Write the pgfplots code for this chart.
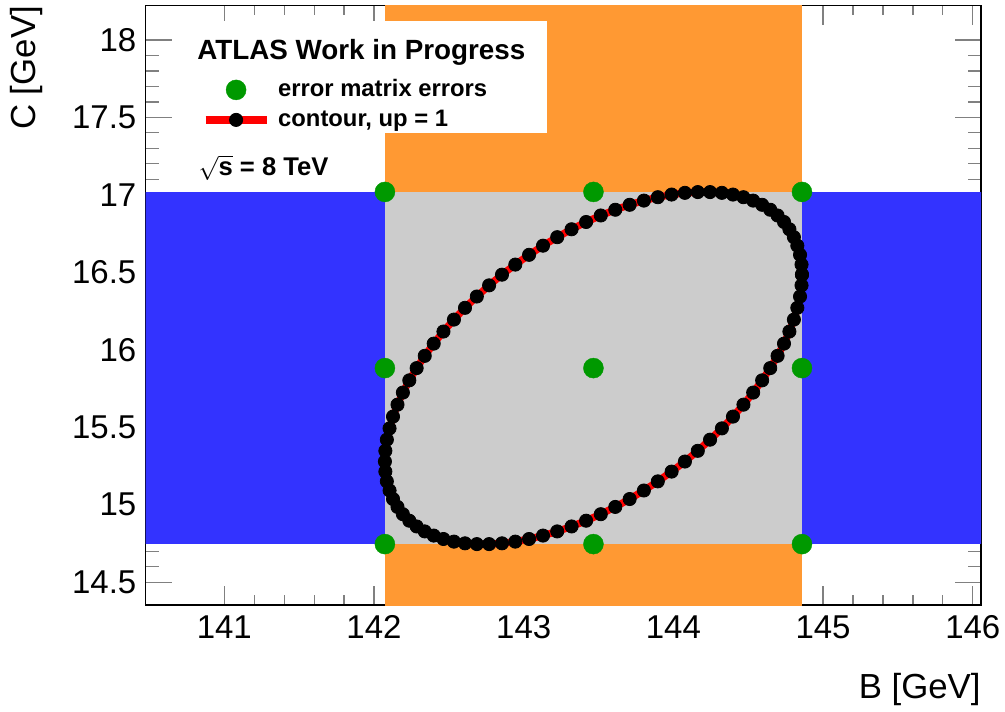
\documentclass[border=0pt]{standalone}
\usepackage{fontspec}
\setmainfont{Liberation Sans}
\usepackage{pgfplots}
\pgfplotsset{compat=1.18}
\definecolor{bandblue}{RGB}{51,51,255}
\definecolor{bandorange}{RGB}{255,153,51}
\definecolor{bandgrey}{RGB}{204,204,204}
\definecolor{ptgreen}{RGB}{0,153,0}
\begin{document}
\begin{tikzpicture}
\begin{axis}[
  name=ax,
  scale only axis,
  width=417.65pt, height=299.65pt,
  xmin=140.475, xmax=146.055,
  ymin=14.353, ymax=18.221,
  xtick={141,142,143,144,145,146},
  ytick={14.5,15,15.5,16,16.5,17,17.5,18},
  minor x tick num=4,
  minor y tick num=4,
  tick align=inside,
  tick pos=both,
  /pgf/number format/assume math mode=true,
  tick label style={font=\fontsize{16.5}{19}\selectfont},
  xticklabel style={inner sep=0pt, yshift=-5pt},
  yticklabel style={inner sep=0pt, xshift=-4.5pt},
  xtick style={line width=0.6pt, /pgfplots/major tick length=9.5pt, /pgfplots/minor tick length=4.8pt},
  ytick style={line width=0.6pt, /pgfplots/major tick length=13pt, /pgfplots/minor tick length=6.4pt},
  axis line style={line width=0.6pt},
  xlabel={B [GeV]},
  ylabel={C [GeV]},
  xlabel style={at={(axis description cs:1,-0.1418)}, anchor=east, inner sep=0pt, font=\fontsize{17.4}{20}\selectfont},
  ylabel style={at={(axis description cs:-0.1421,1)}, anchor=east, inner sep=0pt, font=\fontsize{17.4}{20}\selectfont},
  legend image code/.code={\draw[mark repeat=2,mark phase=2,#1] plot coordinates {(0pt,0pt) (15.25pt,0pt) (30.5pt,0pt)};},
  legend cell align=left,
  legend style={at={(axis description cs:0.0674,0.8845)}, anchor=north west, draw=none, fill=none,
    inner sep=0pt, outer sep=0pt, row sep=0pt,
    font=\bfseries\fontsize{11.9}{14}\selectfont,
    nodes={inner sep=0pt, text height=11pt, text depth=4pt},
    /tikz/every odd column/.append style={column sep=4pt}},
]
% bands (error matrix errors)
\addplot[draw=none, fill=bandblue, forget plot] coordinates {(140.0,14.746) (147.0,14.746) (147.0,17.019) (140.0,17.019)};
\addplot[draw=none, fill=bandorange, forget plot] coordinates {(142.073,14.0) (144.859,14.0) (144.859,19.0) (142.073,19.0)};
\addplot[draw=none, fill=bandgrey, forget plot] coordinates {(142.073,14.746) (144.859,14.746) (144.859,17.019) (142.073,17.019)};
% legend background box
\addplot[draw=none, fill=white, forget plot] coordinates {(140.737,17.400) (143.156,17.400) (143.156,18.123) (140.737,18.123)};
% error matrix points
\addplot[only marks, mark=*, mark size=5pt, color=ptgreen, mark options={fill=ptgreen, draw=ptgreen, line width=0.2pt}]
 coordinates {(142.073,17.019) (143.466,17.019) (144.859,17.019)
              (142.073,15.882) (143.466,15.882) (144.859,15.882)
              (142.073,14.746) (143.466,14.746) (144.859,14.746)};
\addlegendentry{error matrix errors}
% contour
\addplot[red, line width=3.6pt, line join=round, mark=*, mark size=3.3pt, mark options={solid, draw=black, fill=black, line width=0.4pt}]
 coordinates {
(144.859,16.485) (144.856,16.550) (144.846,16.613) (144.828,16.672) (144.805,16.727) (144.775,16.778) (144.739,16.825) (144.696,16.867) (144.647,16.904) (144.593,16.936) (144.533,16.963) (144.468,16.985) (144.398,17.002) (144.324,17.013) (144.245,17.018) (144.163,17.018) (144.077,17.013) (143.988,17.002) (143.896,16.985) (143.803,16.963) (143.708,16.936) (143.612,16.904) (143.515,16.867) (143.417,16.825) (143.320,16.778) (143.224,16.727) (143.129,16.672) (143.036,16.613) (142.944,16.550) (142.855,16.485) (142.769,16.416) (142.687,16.344) (142.608,16.271) (142.534,16.195) (142.464,16.118) (142.399,16.040) (142.339,15.961) (142.285,15.882) (142.236,15.803) (142.193,15.724) (142.157,15.646) (142.127,15.569) (142.104,15.493) (142.086,15.420) (142.076,15.348) (142.073,15.279) (142.076,15.214) (142.086,15.151) (142.104,15.092) (142.127,15.037) (142.157,14.986) (142.193,14.939) (142.236,14.897) (142.285,14.860) (142.339,14.828) (142.399,14.801) (142.464,14.779) (142.534,14.762) (142.608,14.751) (142.687,14.746) (142.769,14.746) (142.855,14.751) (142.944,14.762) (143.036,14.779) (143.129,14.801) (143.224,14.828) (143.320,14.860) (143.417,14.897) (143.515,14.939) (143.612,14.986) (143.708,15.037) (143.803,15.092) (143.896,15.151) (143.988,15.214) (144.077,15.279) (144.163,15.348) (144.245,15.420) (144.324,15.493) (144.398,15.569) (144.468,15.646) (144.533,15.724) (144.593,15.803) (144.647,15.882) (144.696,15.961) (144.739,16.040) (144.775,16.118) (144.805,16.195) (144.828,16.271) (144.846,16.344) (144.856,16.416) (144.859,16.485)
};
\addlegendentry{contour, up = 1}
\node[anchor=base west, inner sep=0pt, font=\bfseries\fontsize{13.9}{16}\selectfont] at (axis cs:140.817,17.871) {ATLAS Work in Progress};
\node[anchor=base west, inner sep=0pt, font=\bfseries\fontsize{12.8}{15}\selectfont] at (axis cs:140.826,17.122) {$\sqrt{\mbox{s}}$ = 8 TeV};
\end{axis}
\pgfresetboundingbox
\path[use as bounding box] ([xshift=-72.85pt,yshift=-53pt]ax.south west) rectangle ([xshift=12pt,yshift=2.85pt]ax.north east);
\end{tikzpicture}
\end{document}
